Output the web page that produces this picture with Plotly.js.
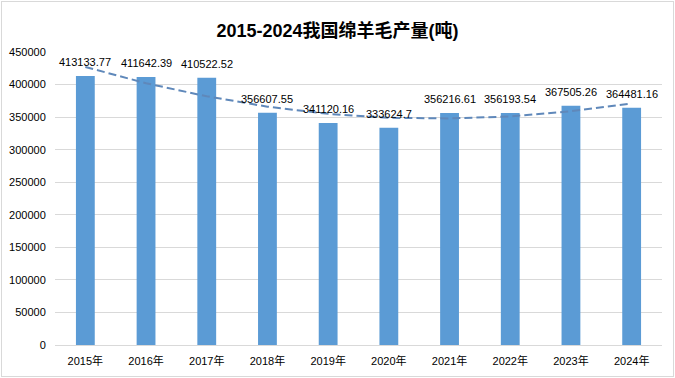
<!DOCTYPE html>
<html>
<head>
<meta charset="utf-8">
<script src="https://cdn.plot.ly/plotly-3.0.1.min.js"></script>
<style>
  html, body { margin: 0; padding: 0; background: #fff; }
  #wrap { position: relative; width: 675px; height: 378px; }
  #chart { width: 675px; height: 378px; }
  #frame { position: absolute; left: 1px; top: 1px; width: 671px; height: 374px; border: 1px solid #D9D9D9; pointer-events: none; }
</style>
</head>
<body>
<div id="wrap"><div id="chart"></div><div id="frame"></div></div>
<script>
const categories = ["2015年","2016年","2017年","2018年","2019年","2020年","2021年","2022年","2023年","2024年"];
const production = [413133.77, 411642.39, 410522.52, 356607.55, 341120.16, 333624.7, 356216.61, 356193.54, 367505.26, 364481.16];
const valueLabels = ["413133.77","411642.39","410522.52","356607.55","341120.16","333624.7","356216.61","356193.54","367505.26","364481.16"];
// dashed trend line
const trend = [427000, 402000, 382000, 366000, 355000, 349000, 348000, 351000, 359000, 371000];
const yTicks = [0,50000,100000,150000,200000,250000,300000,350000,400000,450000];

const FONT = "'Liberation Sans', Arial, 'Noto Sans CJK SC', sans-serif";

const traces = [
  {
    type: 'bar', x: categories, y: production,
    marker: { color: '#5B9BD5' }, hoverinfo: 'none', showlegend: false
  },
  {
    type: 'scatter', mode: 'lines', x: categories, y: trend,
    line: { color: '#5F88BA', width: 2, dash: '8px,4px' }, hoverinfo: 'none', showlegend: false
  }
];

const annotations = categories.map((c, i) => ({
  x: c, y: production[i], xref: 'x', yref: 'y',
  text: valueLabels[i], showarrow: false, yanchor: 'middle', yshift: 14,
  font: { family: FONT, size: 11, color: '#000' }
}));

const layout = {
  width: 675, height: 378,
  margin: { l: 55, r: 13, t: 52, b: 33 },
  paper_bgcolor: '#fff', plot_bgcolor: '#fff',
  title: {
    text: '<b>2015-2024我国绵羊毛产量(吨)</b>',
    x: 0.5, xanchor: 'center', y: 0.92, yanchor: 'middle',
    font: { family: FONT, size: 18, color: '#000' }
  },
  bargap: 0.69,
  xaxis: {
    type: 'category', showgrid: false, showline: true, linecolor: '#D9D9D9', linewidth: 1,
    ticks: 'outside', ticklen: 6, tickcolor: 'rgba(0,0,0,0)',
    tickfont: { family: FONT, size: 11, color: '#000' }, fixedrange: true
  },
  yaxis: {
    range: [0, 450000], tickvals: yTicks, ticktext: yTicks.map(String),
    showgrid: true, gridcolor: '#D9D9D9', gridwidth: 1, zeroline: false, showline: false,
    ticks: 'outside', ticklen: 6, tickcolor: 'rgba(0,0,0,0)',
    tickfont: { family: FONT, size: 11, color: '#000' }, fixedrange: true
  },
  annotations: annotations,
  showlegend: false
};

Plotly.newPlot('chart', traces, layout, { staticPlot: true, displayModeBar: false });
</script>
</body>
</html>
